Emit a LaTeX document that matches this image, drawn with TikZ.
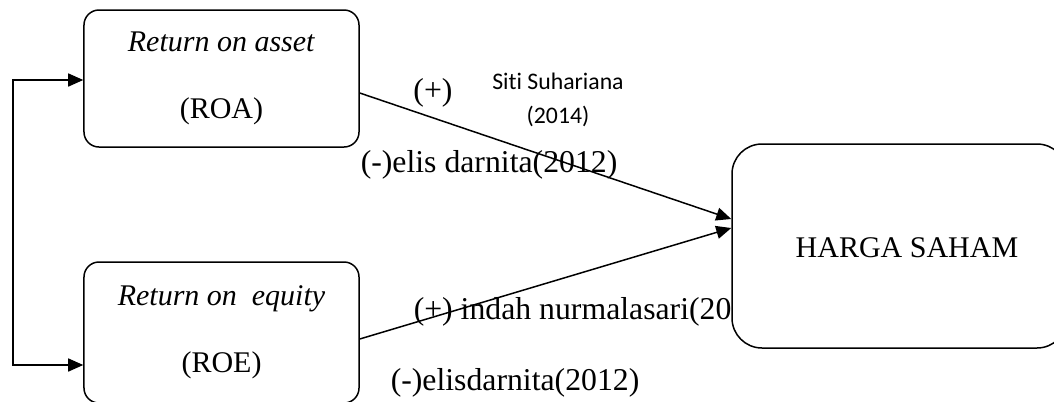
\documentclass[tikz,border=0pt]{standalone}
\usepackage{fontspec}
\setmainfont{Liberation Serif}
\newfontfamily\calibrifont[Ligatures=NoCommon]{Carlito}
\usetikzlibrary{arrows.meta,positioning}

\begin{document}
\begin{tikzpicture}[x=0.4pt,y=-0.4pt,font=\fontsize{12}{14}\selectfont,
  >={Triangle[length=6pt,width=5.2pt]},line width=0.6pt,
  var/.style={draw,rounded corners=6pt,align=center,inner sep=0pt,minimum width=110pt},
  ref/.style={inner sep=0pt,anchor=west,font=\fontsize{12.7}{15}\selectfont}]
  \useasboundingbox (0,0) rectangle (1054,401);
  % independent variables (left)
  \node[var,minimum height=54.8pt] (roa) at (221.5,78.5) {\textit{Return on asset}\\[13pt](ROA)};
  \node[var,minimum height=56.4pt] (roe) at (221.5,332.5) {\textit{Return on\ \ equity}\\[13pt](ROE)};
  % reference labels
  \node[ref,anchor=center] (plus) at (433,93) {(+)};
  \node[inner sep=0pt,align=center,font=\calibrifont\fontsize{9.5}{13.6}\selectfont] (siti) at (558,100)
    {Siti Suhariana\\(2014)};
  \node[ref] (elis1) at (360,165) {(-)elis darnita(2012)};
  \node[ref] (indah) at (413,312) {(+) indah nurmalasari(20};
  \node[ref] (elis2) at (390,383) {(-)elisdarnita(2012)};
  % dependent variable (right)
  \node[draw,rounded corners=12pt,fill=white,minimum width=134pt,minimum height=81.6pt] (harga) at (899.5,246) {};
  \node[inner sep=0pt] (hs) at (907,248) {HARGA SAHAM};
  \draw[->] ([yshift=-5.8pt]roa.east) -- ([yshift=10.8pt]harga.west);
  \draw[->] ([yshift=-2.6pt]roe.east) -- ([yshift=7.2pt]harga.west);
  % link between ROA and ROE
  \coordinate (spine) at (13,220);
  \draw[<->] ([yshift=-0.6pt]roa.west) -| (spine) |- ([yshift=-13pt]roe.west);
\end{tikzpicture}
\end{document}
